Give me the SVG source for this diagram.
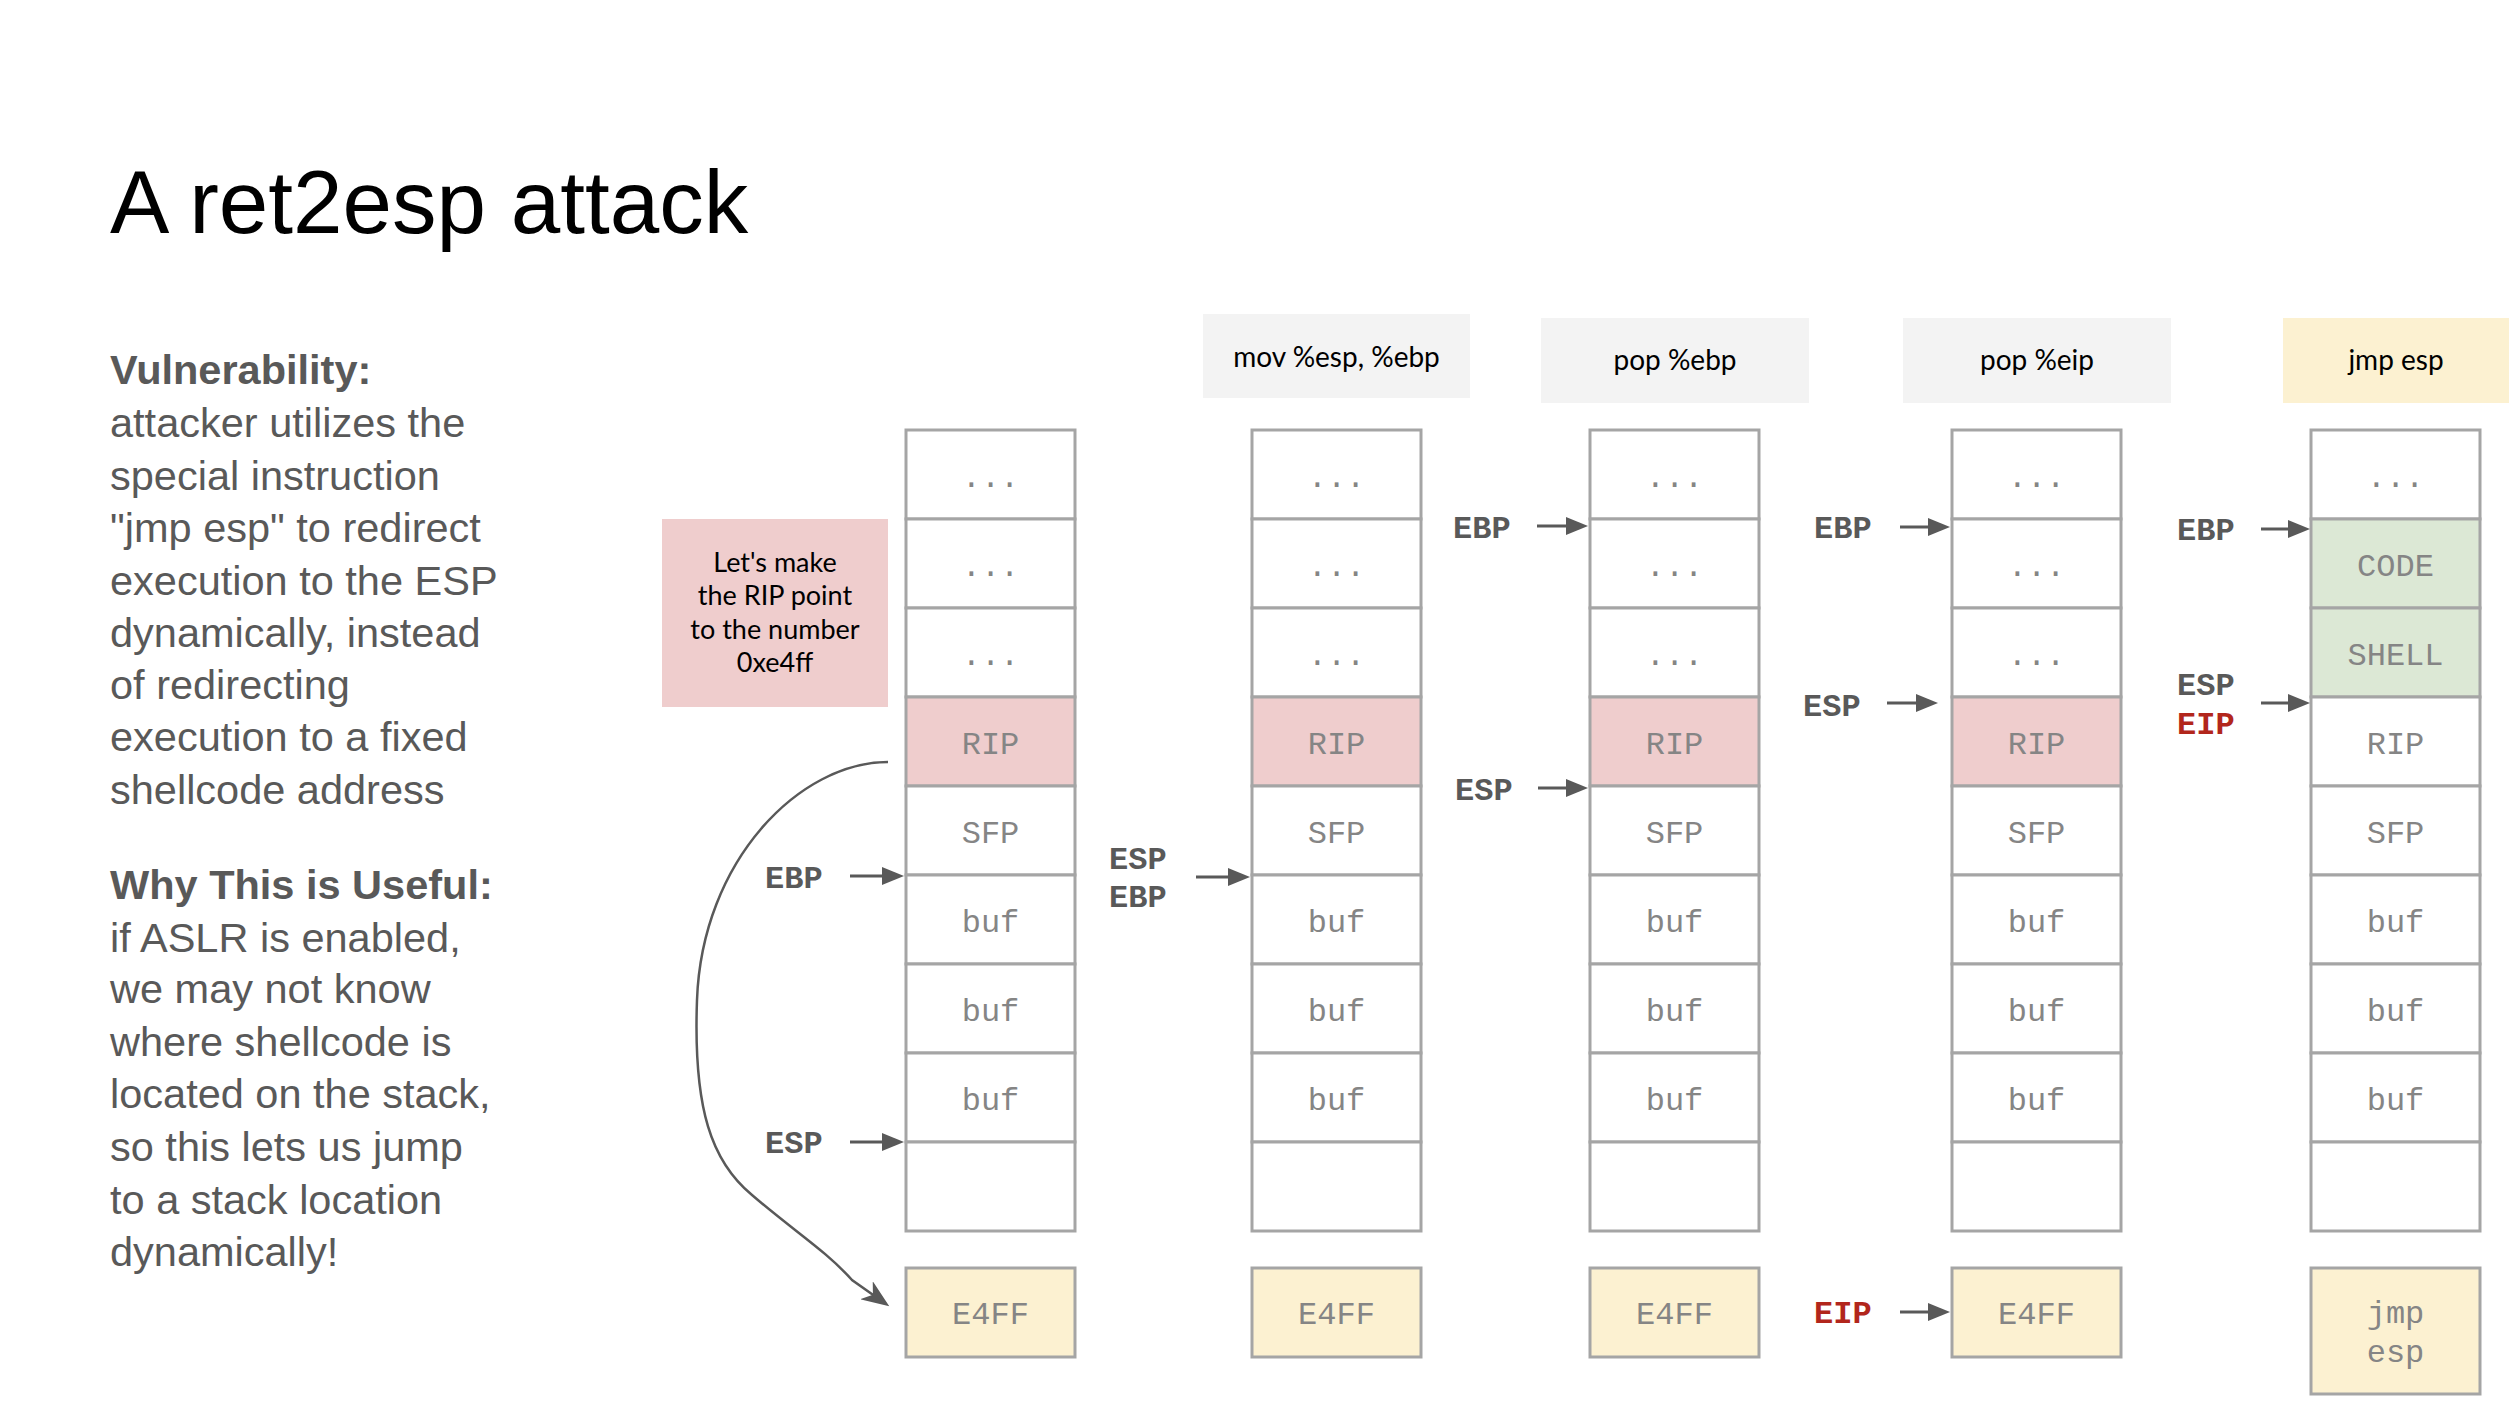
<svg xmlns="http://www.w3.org/2000/svg" width="2518" height="1418" viewBox="0 0 2518 1418">
<style>
.cell{fill:#ffffff;stroke:#a5a5a5;stroke-width:3}
.rip{fill:#efcdcd}
.yel{fill:#fcf1d1}
.grn{fill:#dce8d5}
.ct{font-family:"Liberation Mono","Courier New",monospace;font-size:32px;fill:#858585;text-anchor:middle}
.pl{font-family:"Liberation Mono","Courier New",monospace;font-size:32px;font-weight:bold;fill:#595959}
.red{fill:#b2261c}
.ins{font-family:Lato,"Open Sans",sans-serif;font-size:28px;fill:#000000;text-anchor:middle}
.note{font-family:Lato,"Open Sans",sans-serif;font-size:27px;fill:#000000;text-anchor:middle}
.body{font-family:"Liberation Sans",Arial,sans-serif;font-size:41.5px;fill:#595959}
.arr{stroke:#595959;stroke-width:3;fill:none;marker-end:url(#ah)}
.curve{stroke:#595959;stroke-width:2.5;fill:none;marker-end:url(#ah2)}
</style>
<defs>
<marker id="ah" markerUnits="userSpaceOnUse" markerWidth="24" markerHeight="18" refX="4" refY="9" orient="auto">
<path d="M0,0 L22,9 L0,18 Z" fill="#595959"/>
</marker>
<marker id="ah2" markerUnits="userSpaceOnUse" markerWidth="30" markerHeight="22" refX="24" refY="11" orient="auto">
<path d="M0,0 L28,11 L0,22 L8,11 Z" fill="#595959"/>
</marker>
</defs>
<rect width="2518" height="1418" fill="#ffffff"/>

<g id="title">
<text x="110" y="233" font-family="Liberation Sans, Arial, sans-serif" font-size="89" fill="#000000">A ret2esp attack</text>
</g>

<g id="description">
<text x="110" y="384" class="body" font-weight="bold">Vulnerability:</text>
<text x="110" y="437" class="body">attacker utilizes the</text>
<text x="110" y="490" class="body">special instruction</text>
<text x="110" y="542" class="body">"jmp esp" to redirect</text>
<text x="110" y="595" class="body">execution to the ESP</text>
<text x="110" y="647" class="body">dynamically, instead</text>
<text x="110" y="699" class="body">of redirecting</text>
<text x="110" y="751" class="body">execution to a fixed</text>
<text x="110" y="804" class="body">shellcode address</text>
<text x="110" y="899" class="body" font-weight="bold">Why This is Useful:</text>
<text x="110" y="952" class="body">if ASLR is enabled,</text>
<text x="110" y="1003" class="body">we may not know</text>
<text x="110" y="1056" class="body">where shellcode is</text>
<text x="110" y="1108" class="body">located on the stack,</text>
<text x="110" y="1161" class="body">so this lets us jump</text>
<text x="110" y="1214" class="body">to a stack location</text>
<text x="110" y="1266" class="body">dynamically!</text>
</g>

<g id="note">
<rect x="662" y="519" width="226" height="188" fill="#efcdcd"/>
<text x="775" y="572" class="note">Let's make</text>
<text x="775" y="605" class="note">the RIP point</text>
<text x="775" y="639" class="note">to the number</text>
<text x="775" y="672" class="note">0xe4ff</text>
</g>

<g id="instr-mov">
<rect x="1203" y="314" width="267" height="84" fill="#f3f3f3"/>
<text x="1336.5" y="367" class="ins">mov %esp, %ebp</text>
</g>
<g id="instr-popebp">
<rect x="1541" y="318" width="268" height="85" fill="#f3f3f3"/>
<text x="1675" y="370" class="ins">pop %ebp</text>
</g>
<g id="instr-popeip">
<rect x="1903" y="318" width="268" height="85" fill="#f3f3f3"/>
<text x="2037" y="370" class="ins">pop %eip</text>
</g>
<g id="instr-jmpesp">
<rect x="2283" y="318" width="226" height="85" fill="#fcf1d1"/>
<text x="2396" y="370" class="ins">jmp esp</text>
</g>

<g id="stack1">
<rect class="cell" x="906" y="430" width="169" height="89"/>
<rect class="cell" x="906" y="519" width="169" height="89"/>
<rect class="cell" x="906" y="608" width="169" height="89"/>
<rect class="cell rip" x="906" y="697" width="169" height="89"/>
<rect class="cell" x="906" y="786" width="169" height="89"/>
<rect class="cell" x="906" y="875" width="169" height="89"/>
<rect class="cell" x="906" y="964" width="169" height="89"/>
<rect class="cell" x="906" y="1053" width="169" height="89"/>
<rect class="cell" x="906" y="1142" width="169" height="89"/>
<text class="ct" x="990.5" y="487">...</text>
<text class="ct" x="990.5" y="576">...</text>
<text class="ct" x="990.5" y="665">...</text>
<text class="ct" x="990.5" y="754">RIP</text>
<text class="ct" x="990.5" y="843">SFP</text>
<text class="ct" x="990.5" y="932">buf</text>
<text class="ct" x="990.5" y="1021">buf</text>
<text class="ct" x="990.5" y="1110">buf</text>
</g>
<g id="val1">
<rect class="cell yel" x="906" y="1268" width="169" height="89"/>
<text class="ct" x="990.5" y="1324">E4FF</text>
</g>

<g id="stack2">
<rect class="cell" x="1252" y="430" width="169" height="89"/>
<rect class="cell" x="1252" y="519" width="169" height="89"/>
<rect class="cell" x="1252" y="608" width="169" height="89"/>
<rect class="cell rip" x="1252" y="697" width="169" height="89"/>
<rect class="cell" x="1252" y="786" width="169" height="89"/>
<rect class="cell" x="1252" y="875" width="169" height="89"/>
<rect class="cell" x="1252" y="964" width="169" height="89"/>
<rect class="cell" x="1252" y="1053" width="169" height="89"/>
<rect class="cell" x="1252" y="1142" width="169" height="89"/>
<text class="ct" x="1336.5" y="487">...</text>
<text class="ct" x="1336.5" y="576">...</text>
<text class="ct" x="1336.5" y="665">...</text>
<text class="ct" x="1336.5" y="754">RIP</text>
<text class="ct" x="1336.5" y="843">SFP</text>
<text class="ct" x="1336.5" y="932">buf</text>
<text class="ct" x="1336.5" y="1021">buf</text>
<text class="ct" x="1336.5" y="1110">buf</text>
</g>
<g id="val2">
<rect class="cell yel" x="1252" y="1268" width="169" height="89"/>
<text class="ct" x="1336.5" y="1324">E4FF</text>
</g>

<g id="stack3">
<rect class="cell" x="1590" y="430" width="169" height="89"/>
<rect class="cell" x="1590" y="519" width="169" height="89"/>
<rect class="cell" x="1590" y="608" width="169" height="89"/>
<rect class="cell rip" x="1590" y="697" width="169" height="89"/>
<rect class="cell" x="1590" y="786" width="169" height="89"/>
<rect class="cell" x="1590" y="875" width="169" height="89"/>
<rect class="cell" x="1590" y="964" width="169" height="89"/>
<rect class="cell" x="1590" y="1053" width="169" height="89"/>
<rect class="cell" x="1590" y="1142" width="169" height="89"/>
<text class="ct" x="1674.5" y="487">...</text>
<text class="ct" x="1674.5" y="576">...</text>
<text class="ct" x="1674.5" y="665">...</text>
<text class="ct" x="1674.5" y="754">RIP</text>
<text class="ct" x="1674.5" y="843">SFP</text>
<text class="ct" x="1674.5" y="932">buf</text>
<text class="ct" x="1674.5" y="1021">buf</text>
<text class="ct" x="1674.5" y="1110">buf</text>
</g>
<g id="val3">
<rect class="cell yel" x="1590" y="1268" width="169" height="89"/>
<text class="ct" x="1674.5" y="1324">E4FF</text>
</g>

<g id="stack4">
<rect class="cell" x="1952" y="430" width="169" height="89"/>
<rect class="cell" x="1952" y="519" width="169" height="89"/>
<rect class="cell" x="1952" y="608" width="169" height="89"/>
<rect class="cell rip" x="1952" y="697" width="169" height="89"/>
<rect class="cell" x="1952" y="786" width="169" height="89"/>
<rect class="cell" x="1952" y="875" width="169" height="89"/>
<rect class="cell" x="1952" y="964" width="169" height="89"/>
<rect class="cell" x="1952" y="1053" width="169" height="89"/>
<rect class="cell" x="1952" y="1142" width="169" height="89"/>
<text class="ct" x="2036.5" y="487">...</text>
<text class="ct" x="2036.5" y="576">...</text>
<text class="ct" x="2036.5" y="665">...</text>
<text class="ct" x="2036.5" y="754">RIP</text>
<text class="ct" x="2036.5" y="843">SFP</text>
<text class="ct" x="2036.5" y="932">buf</text>
<text class="ct" x="2036.5" y="1021">buf</text>
<text class="ct" x="2036.5" y="1110">buf</text>
</g>
<g id="val4">
<rect class="cell yel" x="1952" y="1268" width="169" height="89"/>
<text class="ct" x="2036.5" y="1324">E4FF</text>
</g>

<g id="stack5">
<rect class="cell" x="2311" y="430" width="169" height="89"/>
<rect class="cell grn" x="2311" y="519" width="169" height="89"/>
<rect class="cell grn" x="2311" y="608" width="169" height="89"/>
<rect class="cell" x="2311" y="697" width="169" height="89"/>
<rect class="cell" x="2311" y="786" width="169" height="89"/>
<rect class="cell" x="2311" y="875" width="169" height="89"/>
<rect class="cell" x="2311" y="964" width="169" height="89"/>
<rect class="cell" x="2311" y="1053" width="169" height="89"/>
<rect class="cell" x="2311" y="1142" width="169" height="89"/>
<text class="ct" x="2395.5" y="487">...</text>
<text class="ct" x="2395.5" y="576">CODE</text>
<text class="ct" x="2395.5" y="665">SHELL</text>
<text class="ct" x="2395.5" y="754">RIP</text>
<text class="ct" x="2395.5" y="843">SFP</text>
<text class="ct" x="2395.5" y="932">buf</text>
<text class="ct" x="2395.5" y="1021">buf</text>
<text class="ct" x="2395.5" y="1110">buf</text>
</g>
<g id="val5">
<rect class="cell yel" x="2311" y="1268" width="169" height="126"/>
<text class="ct" x="2395.5" y="1323">jmp</text>
<text class="ct" x="2395.5" y="1362">esp</text>
</g>

<g id="pointer-labels">
<text class="pl" x="765" y="888">EBP</text>
<text class="pl" x="765" y="1153">ESP</text>
<text class="pl" x="1109" y="869">ESP</text>
<text class="pl" x="1109" y="907">EBP</text>
<text class="pl" x="1453" y="538">EBP</text>
<text class="pl" x="1455" y="800">ESP</text>
<text class="pl" x="1814" y="538">EBP</text>
<text class="pl" x="1803" y="716">ESP</text>
<text class="pl red" x="1814" y="1323">EIP</text>
<text class="pl" x="2177" y="540">EBP</text>
<text class="pl" x="2177" y="695">ESP</text>
<text class="pl red" x="2177" y="734">EIP</text>
</g>

<g id="connectors">
<line class="arr" x1="850" y1="876" x2="886" y2="876"/>
<line class="arr" x1="850" y1="1142" x2="886" y2="1142"/>
<line class="arr" x1="1196" y1="877" x2="1232" y2="877"/>
<line class="arr" x1="1537" y1="526" x2="1570" y2="526"/>
<line class="arr" x1="1538" y1="788" x2="1570" y2="788"/>
<line class="arr" x1="1900" y1="527" x2="1932" y2="527"/>
<line class="arr" x1="1887" y1="703" x2="1920" y2="703"/>
<line class="arr" x1="1900" y1="1312" x2="1932" y2="1312"/>
<line class="arr" x1="2261" y1="529" x2="2292" y2="529"/>
<line class="arr" x1="2261" y1="703" x2="2292" y2="703"/>
<path class="curve" d="M888,762 C800,762 702,860 697,1000 C693,1110 712,1162 752,1195 C795,1232 825,1250 852,1280 L886,1304"/>
</g>
</svg>
